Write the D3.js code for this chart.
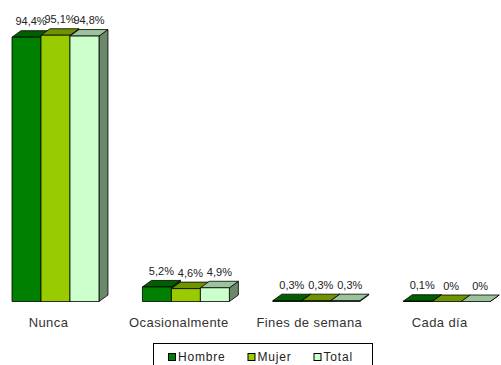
<!DOCTYPE html>
<html>
<head>
<meta charset="utf-8">
<script src="https://cdn.jsdelivr.net/npm/d3@7"></script>
<style>
  html, body { margin: 0; padding: 0; background: #fff; }
  svg { display: block; font-family: "Liberation Sans", Arial, sans-serif; }
</style>
</head>
<body>
<svg id="chart" width="501" height="365"></svg>
<script>
// Frequency categories and percentages per group
const categories = ["Nunca", "Ocasionalmente", "Fines de semana", "Cada día"];
const seriesNames = ["Hombre", "Mujer", "Total"];
const hombre = [94.4, 5.2, 0.3, 0.1];
const mujer  = [95.1, 4.6, 0.3, 0];
const total  = [94.8, 4.9, 0.3, 0];

// Face colours for each series: front, top, side
const palette = {
  Hombre: { front: "#008000", top: "#006000", side: "#004c00" },
  Mujer:  { front: "#99cc00", top: "#6f9400", side: "#5a7a00" },
  Total:  { front: "#ccffcc", top: "#9cc49c", side: "#6b886b" }
};

const seriesValues = { Hombre: hombre, Mujer: mujer, Total: total };
const rows = [];
categories.forEach((c, i) => {
  seriesNames.forEach(s => rows.push({ category: c, series: s, value: seriesValues[s][i] }));
});

const svg = d3.select("#chart");
const depthX = 9, depthY = 6.5;

const x0 = d3.scaleBand().domain(categories).range([12, 490.2]).paddingInner(0.333).paddingOuter(0);
const x1 = d3.scaleBand().domain(seriesNames).range([0, x0.bandwidth()]);
const y = d3.scaleLinear().domain([0, 100]).range([301.5, 21.5]);

const fmt = v => String(v).replace(".", ",") + "%";

// 3D bars: side, top, then front face for each bar, drawn left to right
const bars = svg.append("g").attr("stroke", "#000").attr("stroke-width", 0.8).attr("stroke-linejoin", "round");
rows.forEach(d => {
  const xl = x0(d.category) + x1(d.series);
  const xr = xl + x1.bandwidth();
  const yt = y(d.value);
  const yb = y(0);
  const col = palette[d.series];
  const g = bars.append("g");
  g.append("path")
    .attr("d", `M${xr},${yb}L${xr + depthX},${yb - depthY}L${xr + depthX},${yt - depthY}L${xr},${yt}Z`)
    .attr("fill", col.side);
  g.append("path")
    .attr("d", `M${xl},${yt}L${xl + depthX},${yt - depthY}L${xr + depthX},${yt - depthY}L${xr},${yt}Z`)
    .attr("fill", col.top);
  g.append("rect")
    .attr("x", xl).attr("y", yt)
    .attr("width", x1.bandwidth()).attr("height", Math.max(0, yb - yt))
    .attr("fill", col.front);
});

// Value labels above each bar's top face
svg.append("g")
  .attr("font-size", 11).attr("fill", "#222").attr("text-anchor", "middle")
  .selectAll("text").data(rows).join("text")
  .attr("x", d => x0(d.category) + x1(d.series) + x1.bandwidth() / 2 + depthX / 2)
  .attr("y", d => y(d.value) - 12)
  .text(d => fmt(d.value));

// Category labels under each group
svg.append("g")
  .attr("font-size", 13).attr("fill", "#333").attr("text-anchor", "middle")
  .attr("letter-spacing", 0.4)
  .selectAll("text").data(categories).join("text")
  .attr("x", d => x0(d) + x0.bandwidth() / 2 - 7)
  .attr("y", 327)
  .text(d => d);

// Legend
const legend = svg.append("g");
legend.append("rect")
  .attr("x", 153.5).attr("y", 343.5).attr("width", 219).attr("height", 28)
  .attr("fill", "#fff").attr("stroke", "#000").attr("stroke-width", 1);
let lx = 168;
seriesNames.forEach(s => {
  legend.append("rect")
    .attr("x", lx + 0.5).attr("y", 353.5).attr("width", 7).attr("height", 7)
    .attr("fill", palette[s].front).attr("stroke", "#000").attr("stroke-width", 1);
  const t = legend.append("text")
    .attr("x", lx + 10).attr("y", 361)
    .attr("font-size", 12).attr("letter-spacing", 0.8).attr("fill", "#222")
    .text(s);
  lx += 10 + t.node().getComputedTextLength() + 22;
});
</script>
</body>
</html>
